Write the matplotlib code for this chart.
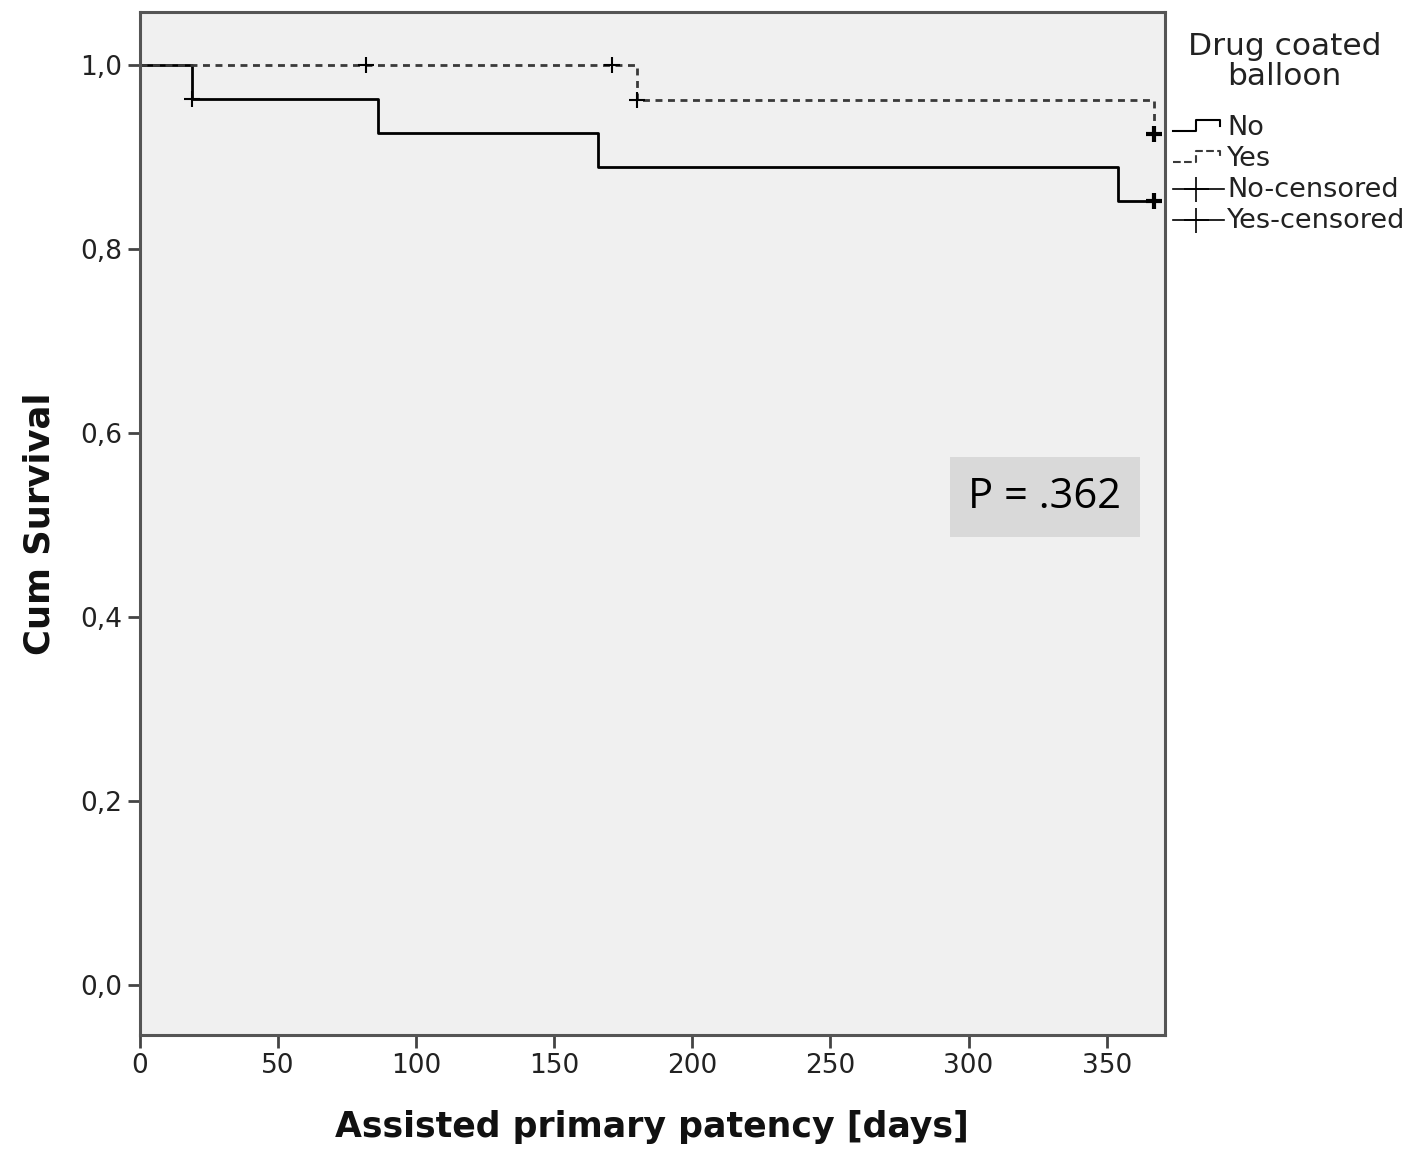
import matplotlib
matplotlib.use("Agg")
import matplotlib.pyplot as plt
from matplotlib.lines import Line2D
from matplotlib.legend_handler import HandlerBase

# Kaplan-Meier steps
no_times = [0, 19, 86, 166, 354, 367]
no_surv = [1.0, 0.963, 0.926, 0.889, 0.852, 0.852]
no_cens_t = [19, 367]
no_cens_s = [0.963, 0.852]

yes_times = [0, 180, 367]
yes_surv = [1.0, 0.962, 0.925]
yes_cens_t = [82, 171, 180, 367]
yes_cens_s = [1.0, 1.0, 0.962, 0.925]

x_ticks = [0, 50, 100, 150, 200, 250, 300, 350]
y_ticks = [0.0, 0.2, 0.4, 0.6, 0.8, 1.0]
legend_title = "Drug coated\nballoon"
legend_labels = ["No", "Yes", "No-censored", "Yes-censored"]
p_text = "P = .362"

dash_color = "#3a3a3a"


class StepHandler(HandlerBase):
    def create_artists(self, legend, orig, xd, yd, w, h, fs, trans):
        lo, hi = yd + 0.2 * h, yd + 0.8 * h
        xs = [xd, xd + 0.45 * w, xd + 0.45 * w, xd + 0.92 * w, xd + 0.92 * w]
        ys = [lo, lo, hi, hi, hi - 0.3 * h]
        ln = Line2D(xs, ys, color=orig.get_color(), lw=orig.get_linewidth(),
                    linestyle=orig.get_linestyle(), transform=trans)
        return [ln]


class CensHandler(HandlerBase):
    def create_artists(self, legend, orig, xd, yd, w, h, fs, trans):
        y = yd + 0.4 * h
        ln = Line2D([xd, xd + w], [y, y], color="black", lw=1.2, transform=trans)
        mk = Line2D([xd + 0.45 * w], [y], marker="+", markersize=18,
                    mew=1.2, color="black", transform=trans)
        return [ln, mk]


fig = plt.figure(figsize=(14.1, 11.5), dpi=100)
ax = fig.add_axes([0.0993, 0.1, 0.7267, 0.8896])
ax.set_facecolor("#f0f0f0")

ax.step(no_times, no_surv, where="post", color="black", lw=2)
ax.step(yes_times, yes_surv, where="post", color=dash_color, lw=2,
        linestyle=(0, (2.5, 2)))
ax.plot(no_cens_t[:1], no_cens_s[:1], "+", color="black", markersize=12, mew=1.5)
ax.plot(no_cens_t[1:], no_cens_s[1:], "+", color="black", markersize=12, mew=3)
ax.plot(yes_cens_t[:3], yes_cens_s[:3], "+", color="black", markersize=12, mew=1.5)
ax.plot(yes_cens_t[3:], yes_cens_s[3:], "+", color="black", markersize=12, mew=3)

ax.set_xlim(0, 371)
ax.set_ylim(-0.054, 1.058)
ax.set_xticks(x_ticks)
ax.set_yticks(y_ticks)
ax.set_yticklabels([f"{v:.1f}".replace(".", ",") for v in y_ticks])
ax.tick_params(axis="both", labelsize=19, length=9, width=2, color="#444444",
               labelcolor="#222222", pad=4)
for s in ax.spines.values():
    s.set_color("#555555")
    s.set_linewidth(2.2)

ax.set_xlabel("Assisted primary patency [days]", fontsize=25, fontweight="bold",
              labelpad=22, color="#111111")
ax.set_ylabel("Cum Survival", fontsize=25.5, fontweight="bold", labelpad=17,
              color="#111111")

ax.text(0.883, 0.526, p_text, transform=ax.transAxes, fontsize=30,
        family="Open Sans", ha="center", va="center",
        bbox=dict(boxstyle="square,pad=0.45", fc="#d9d9d9", ec="none"))

ax.text(1.117, 0.9516, legend_title, transform=ax.transAxes, fontsize=22.5,
        ha="center", va="center", color="#222222", linespacing=1.05)

h_no = Line2D([], [], color="black", lw=1.5)
h_yes = Line2D([], [], color=dash_color, lw=1.5, linestyle=(0, (2.5, 2)))
h_nc = Line2D([], [], color="black")
h_yc = Line2D([], [], color="black")
leg = ax.legend([h_no, h_yes, h_nc, h_yc], legend_labels,
                handler_map={h_no: StepHandler(), h_yes: StepHandler(),
                             h_nc: CensHandler(), h_yc: CensHandler()},
                loc="upper left", bbox_to_anchor=(1.0, 0.907), frameon=False,
                fontsize=19.5, handlelength=1.9, handletextpad=0.1,
                labelspacing=0.18, borderaxespad=0.3, borderpad=0.0)
for t in leg.get_texts():
    t.set_color("#222222")

fig.savefig("out.png", dpi=100)
